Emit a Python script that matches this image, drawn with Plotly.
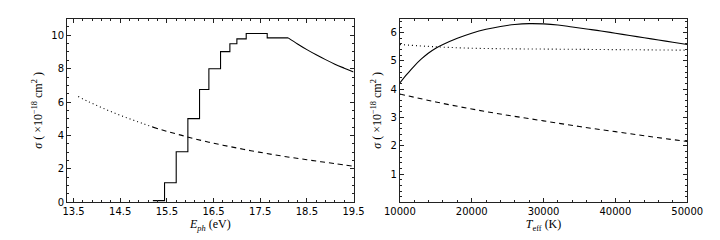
import plotly.graph_objects as go

# ---- Left panel data (E_ph in eV, sigma in 1e-18 cm^2) ----
step_E = [15.2, 15.45, 15.7, 15.95, 16.2, 16.4, 16.65, 16.85, 17.0, 17.2, 17.65, 18.1]
step_sig = [0.1, 1.17, 3.03, 5.01, 6.75, 7.99, 9.02, 9.49, 9.78, 10.1, 9.84, 9.84]

tail_E = [18.1, 18.3, 18.5, 18.7, 18.9, 19.1, 19.3, 19.5]
tail_sig = [9.84, 9.48, 9.14, 8.83, 8.54, 8.27, 8.03, 7.8]

dot_E = [13.6, 13.8, 14.0, 14.2, 14.4, 14.6, 14.8, 15.0, 15.2]
dot_sig = [6.33, 6.05, 5.8, 5.55, 5.32, 5.1, 4.9, 4.7, 4.5]

dash_E = [15.2, 15.5, 15.8, 16.1, 16.4, 16.7, 17.0, 17.3, 17.6, 17.9, 18.2, 18.5, 18.8, 19.1, 19.5]
dash_sig = [4.5, 4.25, 4.02, 3.8, 3.6, 3.42, 3.25, 3.09, 2.94, 2.8, 2.67, 2.55, 2.43, 2.32, 2.16]

# ---- Right panel data (T_eff in K) ----
sol_T = [10000, 11000, 12000, 13000, 14000, 15000, 16000, 18000, 20000, 22000, 24000,
         26000, 28000, 30000, 32000, 34000, 36000, 38000, 40000, 42000, 44000, 46000,
         48000, 50000]
sol_sig = [4.22, 4.53, 4.82, 5.07, 5.28, 5.45, 5.58, 5.8, 5.98, 6.12, 6.22,
           6.29, 6.32, 6.31, 6.27, 6.2, 6.13, 6.06, 5.98, 5.9, 5.82, 5.74,
           5.66, 5.58]

dotR_T = [10000, 15000, 20000, 25000, 30000, 35000, 40000, 45000, 50000]
dotR_sig = [5.58, 5.5, 5.45, 5.43, 5.42, 5.41, 5.4, 5.39, 5.38]

dashR_T = [10000, 15000, 20000, 25000, 30000, 35000, 40000, 45000, 50000]
dashR_sig = [3.83, 3.55, 3.3, 3.08, 2.88, 2.68, 2.5, 2.32, 2.15]

left_xticks = [13.5, 14.5, 15.5, 16.5, 17.5, 18.5, 19.5]
left_yticks = [0, 2, 4, 6, 8, 10]
right_xticks = [10000, 20000, 30000, 40000, 50000]
right_yticks = [1, 2, 3, 4, 5, 6]

LW = 1.1
fig = go.Figure()
fig.add_trace(go.Scatter(x=step_E, y=step_sig, mode="lines", line=dict(color="black", width=LW, shape="hv"),
                         xaxis="x", yaxis="y"))
fig.add_trace(go.Scatter(x=tail_E, y=tail_sig, mode="lines", line=dict(color="black", width=LW, shape="spline"),
                         xaxis="x", yaxis="y"))
fig.add_trace(go.Scatter(x=dot_E, y=dot_sig, mode="lines", line=dict(color="black", width=LW, dash="1px,3px", shape="spline"),
                         xaxis="x", yaxis="y"))
fig.add_trace(go.Scatter(x=dash_E, y=dash_sig, mode="lines", line=dict(color="black", width=LW, dash="5px,4px", shape="spline"),
                         xaxis="x", yaxis="y"))

fig.add_trace(go.Scatter(x=sol_T, y=sol_sig, mode="lines", line=dict(color="black", width=LW, shape="spline"),
                         xaxis="x2", yaxis="y2"))
fig.add_trace(go.Scatter(x=dotR_T, y=dotR_sig, mode="lines", line=dict(color="black", width=LW, dash="1px,3px", shape="spline"),
                         xaxis="x2", yaxis="y2"))
fig.add_trace(go.Scatter(x=dashR_T, y=dashR_sig, mode="lines", line=dict(color="black", width=LW, dash="5px,4px", shape="spline"),
                         xaxis="x2", yaxis="y2"))

tickfont = dict(family="DejaVu Sans", size=10, color="black")
titlefont = dict(family="Liberation Serif", size=12, color="black")
ytitle = "<i>σ</i> ( ×10<sup>−18</sup> cm<sup>2</sup> )"

common = dict(showline=True, linecolor="#222", linewidth=1, mirror="allticks", ticks="inside",
              ticklen=4, tickcolor="#222", showgrid=False, zeroline=False, tickfont=tickfont)

fig.update_layout(
    width=720, height=240, margin=dict(l=0, r=0, t=0, b=0),
    paper_bgcolor="white", plot_bgcolor="white", showlegend=False,
    xaxis=dict(domain=[0.0625, 0.479], range=[13.36, 19.5], tickvals=left_xticks,
               ticktext=[f"{v:.1f}" for v in left_xticks],
               minor=dict(dtick=0.2, tick0=13.5, ticks="inside", ticklen=2, tickcolor="#222"),
               title=dict(text="<i>E</i><sub><i>ph</i></sub> (eV)", font=titlefont, standoff=1),
               anchor="y", **common),
    yaxis=dict(domain=[0.1696, 0.955], range=[0, 11], tickvals=left_yticks,
               ticktext=[str(v) for v in left_yticks],
               minor=dict(dtick=0.5, ticks="inside", ticklen=2, tickcolor="#222"),
               title=dict(text=ytitle, font=titlefont, standoff=6),
               anchor="x", **common),
    xaxis2=dict(domain=[0.5463, 0.964], range=[10000, 50000], tickvals=right_xticks,
                ticktext=[str(v) for v in right_xticks],
                minor=dict(dtick=2000, ticks="inside", ticklen=2, tickcolor="#222"),
                title=dict(text="<i>T</i><sub>eff</sub> (K)", font=titlefont, standoff=1),
                anchor="y2", **common),
    yaxis2=dict(domain=[0.1696, 0.955], range=[0, 6.5], tickvals=right_yticks,
                ticktext=[str(v) for v in right_yticks],
                minor=dict(dtick=0.2, ticks="inside", ticklen=2, tickcolor="#222"),
                title=dict(text=ytitle, font=titlefont, standoff=6),
                anchor="x2", **common),
)

fig.write_html("out.html")
